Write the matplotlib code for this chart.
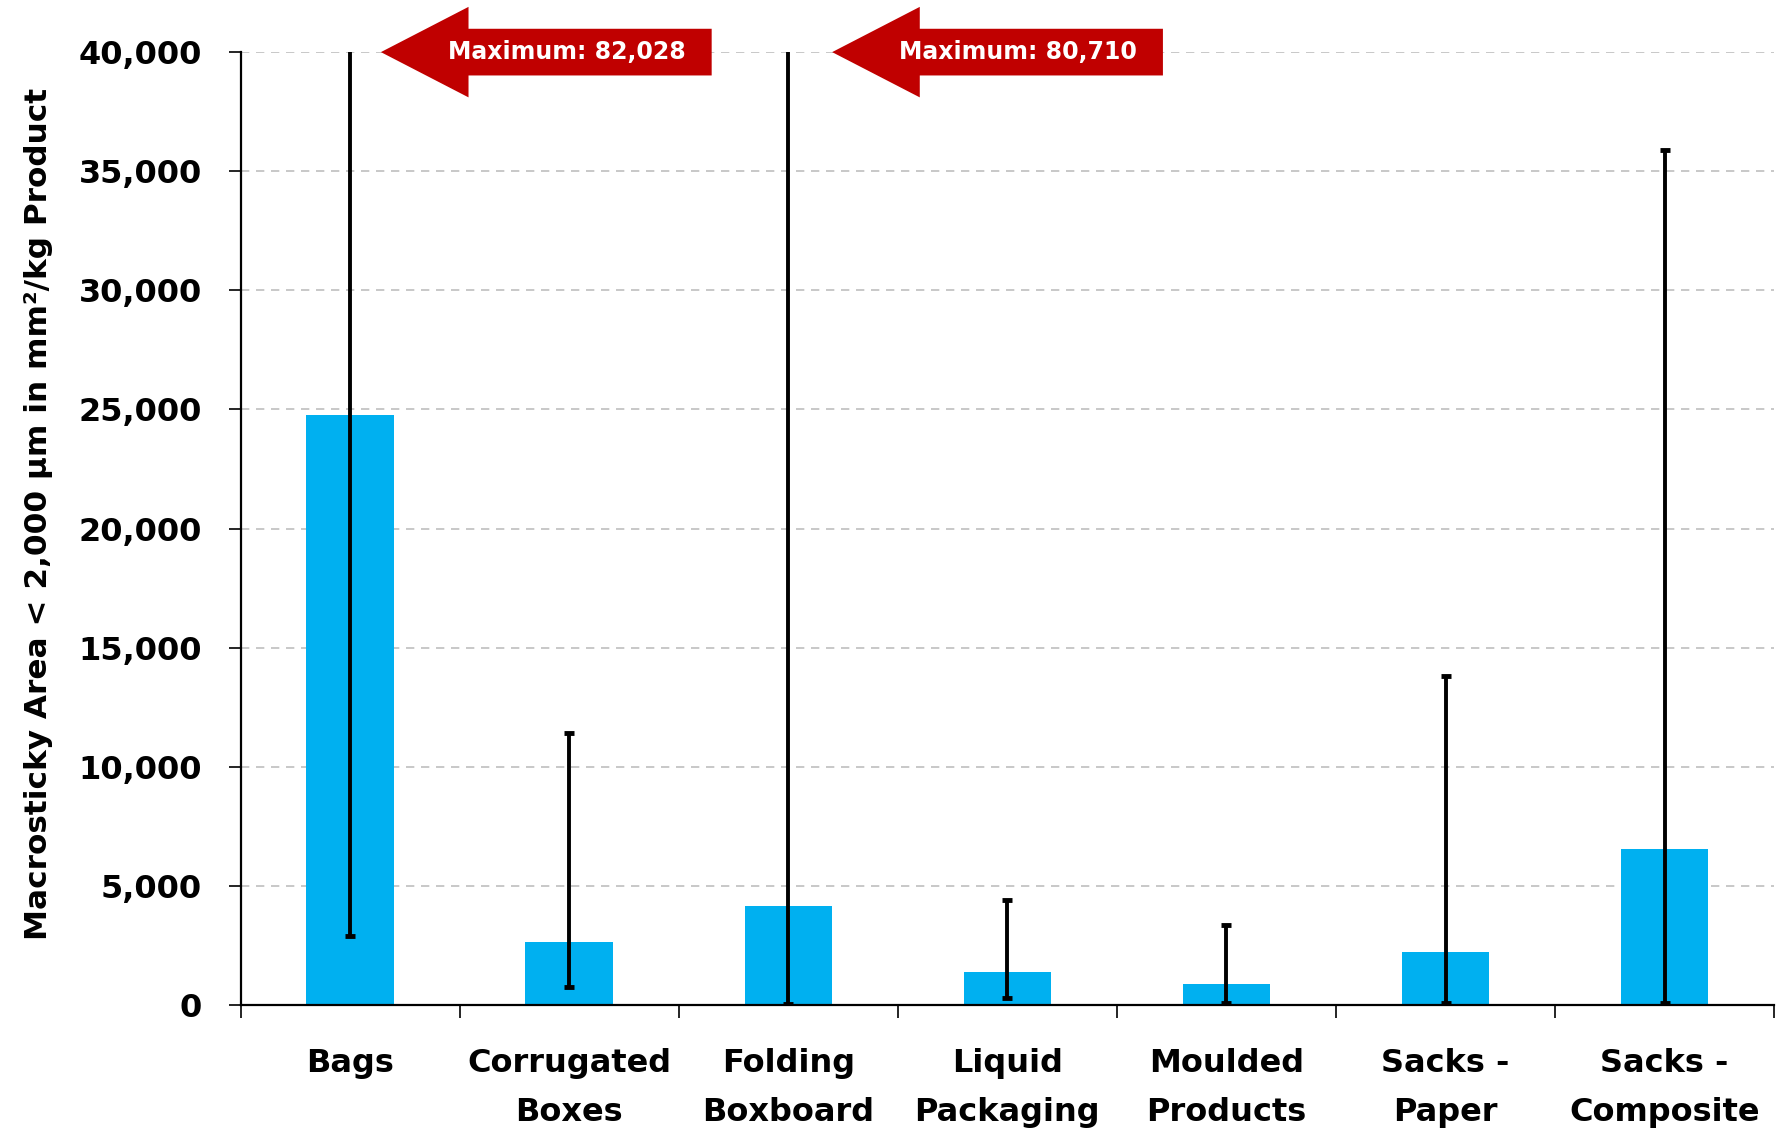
import numpy as np
import matplotlib

matplotlib.use('Agg')

import matplotlib.pyplot as plt
from matplotlib.patches import Polygon
from matplotlib.ticker import FuncFormatter, FixedLocator

plt.rcParams['font.family'] = 'DejaVu Sans'
plt.rcParams['font.weight'] = 'bold'

categories = ['Bags', 'Corrugated\nBoxes', 'Folding\nBoxboard', 'Liquid\nPackaging',
              'Moulded\nProducts', 'Sacks -\nPaper', 'Sacks -\nComposite']
means = [24750, 2630, 4150, 1380, 860, 2240, 6540]
mins = [2900, 760, 50, 290, 100, 100, 100]
maxs = [82028, 11400, 80710, 4390, 3340, 13800, 35900]
yticks = [0, 5000, 10000, 15000, 20000, 25000, 30000, 35000, 40000]

# bars whose maximum is off the chart get an arrow label
offscale = [0, 2]

fig = plt.figure(figsize=(17.83, 11.33), dpi=100)
ax = fig.add_axes([0.135, 0.113, 0.86, 0.841])

x = np.arange(len(categories))
means = np.array(means)
lower = means - np.array(mins)
upper = np.array(maxs) - means

ax.bar(x, means, width=0.4, color='#00B0F0', zorder=2)
ax.errorbar(x, means, yerr=[lower, upper], fmt='none', ecolor='black',
            elinewidth=2.8, capsize=3.5, capthick=3.5, zorder=3)

ax.set_xlim(-0.5, len(categories) - 0.5)
ax.set_ylim(yticks[0], yticks[-1])
ax.set_yticks(yticks)
ax.yaxis.set_major_formatter(FuncFormatter(lambda v, p: '{:,.0f}'.format(v)))
ax.grid(axis='y', color='#BFBFBF', linestyle=(0, (5, 4)), linewidth=1.2, zorder=0)

ax.set_xticks(x)
ax.set_xticklabels(categories, fontsize=23, fontweight='bold', linespacing=1.75)
ax.xaxis.set_minor_locator(FixedLocator(np.arange(-0.5, len(categories), 1.0)))
ax.tick_params(axis='x', which='major', length=0, pad=31)
ax.tick_params(axis='x', which='minor', length=9, width=1.2, color='black')
ax.tick_params(axis='y', length=9, width=1.2, labelsize=23, pad=19)
for lab in ax.get_yticklabels():
    lab.set_fontweight('bold')

ax.spines['top'].set_visible(False)
ax.spines['right'].set_visible(False)
ax.spines['left'].set_linewidth(1.6)
ax.spines['bottom'].set_linewidth(1.6)

ax.set_ylabel('Macrosticky Area < 2,000 µm in mm²/kg Product', fontsize=22.4,
              fontweight='bold')
ax.yaxis.set_label_coords(-0.1225, 0.515)

# red arrow callouts for maxima beyond the axis
top = yticks[-1]
arrow_shift = [0.0, 0.06]
for i, s in zip(offscale, arrow_shift):
    tip = i + 0.14 + s
    neck = i + 0.54 + s
    tail = i + 1.65 + s
    head_h = 1900
    body_h = 980
    pts = [(tip, top), (neck, top + head_h), (neck, top + body_h), (tail, top + body_h),
           (tail, top - body_h), (neck, top - body_h), (neck, top - head_h)]
    ax.add_patch(Polygon(pts, closed=True, facecolor='#C00000', edgecolor='none',
                         clip_on=False, zorder=5))
    ax.text(i + 0.99 + s, top, 'Maximum: {:,}'.format(maxs[i]), color='white',
            fontsize=17, fontweight='bold', ha='center', va='center', zorder=6)

fig.savefig('out.png', dpi=100)
